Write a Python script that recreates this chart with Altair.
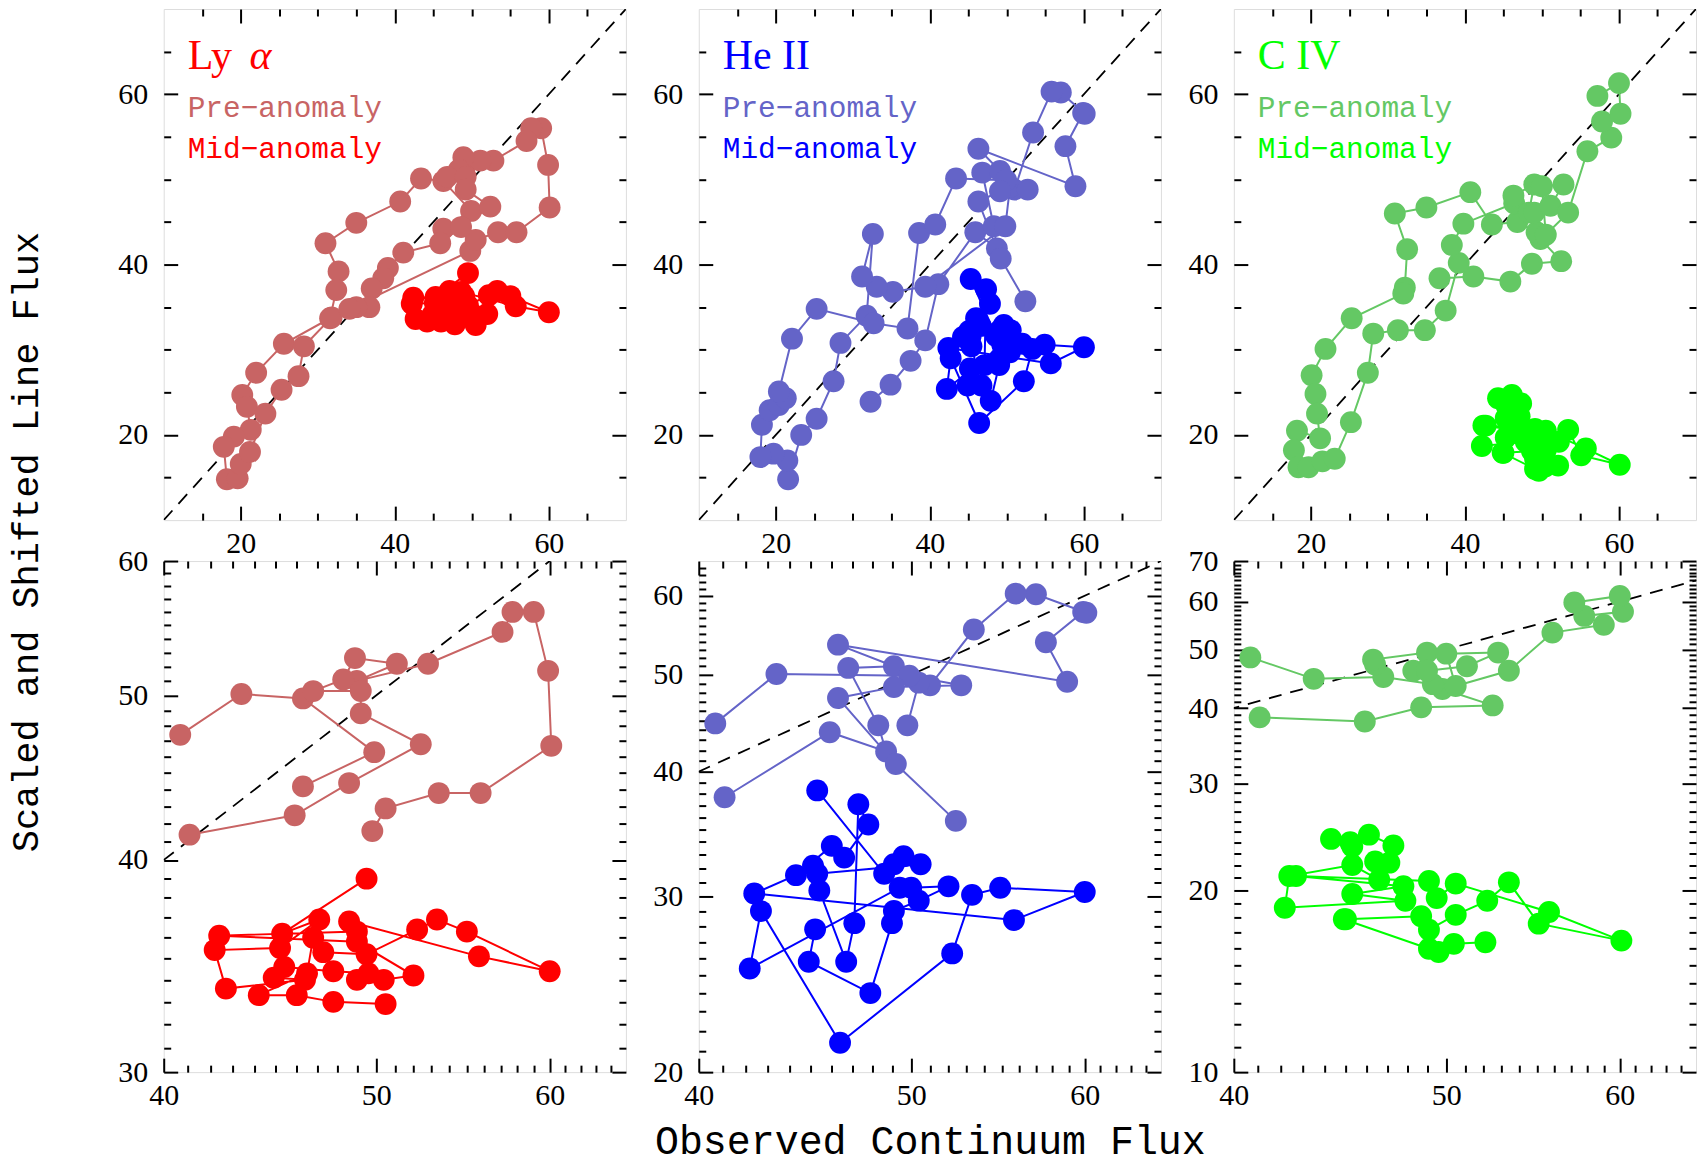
import altair as alt
import pandas as pd

# ------------------------------------------------------------------
# Data (observed continuum flux x,
# scaled & shifted line flux y), in the order the points are joined.
# ------------------------------------------------------------------
lya_pre_x = [46.3, 49.9, 46.3, 43.4, 40.7, 35.0, 31.0, 32.7, 32.4, 31.6, 25.6, 22.0, 20.2, 20.8, 21.3,
             19.1, 17.8, 18.2, 19.6, 20.0, 21.2, 23.2, 25.3, 27.5, 28.2, 31.8, 49.8, 50.5, 53.4, 55.8,
             60.1, 59.9, 59.0, 57.7, 57.1, 52.8, 49.0, 51.1, 48.9, 48.3, 46.8, 49.2, 49.2, 52.4, 48.6,
             45.9, 41.1, 39.1, 38.5, 37.0, 36.7, 35.0, 34.1]
lya_pre_y = [44.2, 46.3, 49.8, 50.1, 47.4, 44.9, 42.5, 39.2, 37.0, 33.7, 30.7, 27.3, 24.7, 23.3, 20.6,
             19.8, 18.6, 14.8, 14.9, 16.6, 18.0, 22.5, 25.3, 26.9, 30.4, 33.8, 41.6, 42.9, 43.8, 43.8,
             46.7, 51.7, 56.0, 56.0, 54.5, 52.2, 51.0, 52.2, 52.6, 51.1, 50.3, 50.3, 48.8, 46.8, 44.4,
             42.5, 41.4, 39.6, 38.4, 37.2, 35.0, 35.0, 34.8]
lya_mid_x = [49.5, 45.3, 47.1, 45.2, 42.2, 42.7, 46.4, 44.9, 45.4, 47.8, 49.6, 49.0, 50.4, 52.0, 49.0,
             42.4, 49.0, 48.6, 55.7, 60.0, 55.0, 53.3, 52.2, 49.5, 47.3, 46.8, 46.5, 44.2, 46.0, 47.8, 50.5]
lya_mid_y = [39.0, 36.2, 36.9, 35.5, 35.4, 33.6, 34.0, 34.1, 34.6, 34.4, 34.3, 34.0, 34.0, 34.2, 35.8,
             36.1, 36.3, 36.8, 35.1, 34.4, 36.3, 36.9, 36.4, 35.2, 35.3, 36.0, 34.3, 33.3, 33.3, 33.0, 32.9]

heii_pre_x = [32.3, 34.9, 37.5, 39.4, 41.1, 45.9, 48.7, 48.3, 46.8, 49.1, 46.3, 58.9, 57.6, 59.9, 60.1,
              57.0, 55.8, 53.4, 51.0, 50.4, 49.8, 39.4, 35.2, 33.1, 31.2, 32.6, 31.8, 28.4, 27.5, 25.3,
              23.3, 21.6, 21.5, 19.7, 18.0, 18.2, 19.2, 20.4, 21.3, 20.4, 22.1, 25.3, 32.7, 37.1, 38.6,
              40.7, 43.4, 49.9, 52.7, 49.1, 46.3, 49.2, 52.4]
heii_pre_y = [23.9, 25.9, 28.7, 31.1, 37.7, 43.8, 41.9, 44.5, 50.8, 51.0, 53.6, 49.2, 53.9, 57.8, 57.7,
              60.2, 60.3, 55.5, 48.8, 49.1, 44.5, 37.4, 36.8, 37.4, 38.6, 43.6, 34.0, 30.8, 26.3, 21.9,
              20.0, 14.8, 17.0, 17.8, 17.4, 21.2, 22.9, 23.5, 24.3, 25.1, 31.3, 34.8, 33.1, 32.5, 43.7,
              44.7, 50.1, 49.9, 48.8, 48.6, 47.4, 40.7, 35.7]
heii_mid_x = [45.3, 48.6, 49.1, 49.6, 50.5, 45.3, 45.1, 45.4, 46.7, 47.1, 47.3, 47.8, 46.6, 46.0, 44.3,
              42.4, 55.7, 60.0, 54.9, 53.3, 52.2, 46.4, 42.7, 42.2, 49.4, 50.0, 52.0, 50.4, 49.1, 49.0,
              47.9, 44.9, 45.2]
heii_mid_y = [38.3, 31.6, 32.3, 32.9, 32.3, 31.6, 32.2, 30.4, 25.8, 28.2, 37.1, 35.4, 32.8, 33.7, 31.5,
              30.2, 28.4, 30.3, 30.6, 30.1, 26.3, 21.4, 29.0, 25.4, 30.6, 30.6, 30.7, 29.7, 29.0, 28.2,
              24.0, 25.8, 27.8]

civ_pre_x = [36.7, 41.1, 45.9, 48.7, 52.5, 49.8, 49.3, 46.8, 43.5, 40.7, 35.0, 30.9, 32.5, 32.2, 32.0,
             25.3, 21.9, 20.1, 20.6, 20.8, 21.2, 18.2, 17.8, 18.4, 19.7, 21.5, 23.1, 25.2, 27.4, 28.1,
             31.3, 34.8, 37.5, 39.2, 38.3, 39.8, 46.4, 46.3, 49.0, 48.3, 49.0, 51.1, 52.8, 50.0, 50.5,
             53.4, 55.9, 59.0, 57.8, 60.2, 60.0, 57.2]
civ_pre_y = [38.4, 38.6, 38.0, 40.1, 40.4, 43.0, 43.8, 45.0, 44.7, 48.5, 46.7, 46.0, 41.8, 37.3, 36.6,
             33.7, 30.1, 27.0, 24.8, 22.5, 19.6, 20.5, 18.2, 16.2, 16.2, 16.9, 17.2, 21.5, 27.3, 31.9,
             32.3, 32.3, 34.6, 40.2, 42.3, 44.8, 47.2, 48.1, 49.4, 46.1, 46.1, 46.9, 49.4, 49.2, 43.5,
             46.1, 53.3, 54.9, 56.8, 57.7, 61.3, 59.8]
civ_mid_x = [44.3, 45.2, 45.3, 46.1, 47.3, 47.1, 46.4, 46.6, 45.3, 42.4, 42.2, 47.9, 45.3, 47.8, 42.7,
             49.1, 49.5, 50.5, 55.7, 60.1, 55.1, 53.4, 52.2, 50.5, 49.1, 48.7, 45.0, 44.9, 49.1, 49.6,
             50.4, 52.1]
civ_mid_y = [24.3, 24.0, 23.6, 24.7, 23.7, 22.2, 22.3, 20.8, 22.0, 21.1, 18.7, 19.2, 19.7, 20.3, 21.1,
             20.7, 19.4, 20.5, 18.4, 16.5, 17.6, 20.6, 19.2, 18.2, 17.2, 18.1, 17.9, 17.9, 16.0, 15.8,
             16.3, 16.4]

# one-to-one reference line
diag_vals = [10, 70]

# axis ticks
top_major = [20, 40, 60]
top_minor = [15, 25, 30, 35, 45, 50, 55, 65]
bx_major = [40, 50, 60]
bx_minor = [v for v in range(41, 65) if v not in (50, 60)]
ly_major = [30, 40, 50, 60]
ly_minor = [v for v in range(31, 60) if v not in (40, 50)]
he_major = [20, 30, 40, 50, 60]
he_minor = [v for v in range(21, 65) if v % 10 != 0]
cv_major = [10, 20, 30, 40, 50, 60, 70]
cv_minor = [v for v in range(11, 70) if v % 10 != 0]

# panel titles: (upright part, italic part)
titles = [("Ly", "α"), ("He II", ""), ("C IV", "")]
pre_label = "Pre\u2212anomaly"
mid_label = "Mid\u2212anomaly"
pre_colors = ["#c86464", "#6464c8", "#64c864"]
mid_colors = ["#ff0000", "#0000ff", "#00ff00"]

NUM_FONT = "Liberation Serif"
TXT_FONT = "Liberation Mono"
W, H = 463, 512
MAJ, MIN = 14, 7


def series_df(xs, ys):
    df = pd.DataFrame({"x": xs, "y": ys})
    df["i"] = range(len(df))
    df["run"] = (df["x"] < 40).cumsum()
    return df


DIAG = pd.DataFrame({"x": diag_vals, "y": diag_vals})


def make_axis(orient, values, size, labels):
    kw = dict(orient=orient, values=values, tickSize=alt.ExprRef(expr=str(-size)),
              tickWidth=2, tickColor="black", domain=False, grid=False,
              labels=labels, title=None, ticks=True)
    if labels:
        pad = size + (8 if orient in ("bottom", "top") else 16)
        kw.update(labelFont=NUM_FONT, labelFontSize=30, labelColor="black",
                  labelFlush=False, labelOverlap=False, format="d", labelPadding=pad)
    return alt.Axis(**kw)


def text_layer(txt, col, font, fs, xx, yy, style="normal"):
    return alt.Chart(pd.DataFrame({"t": [txt]})).mark_text(
        align="left", baseline="alphabetic", font=font, fontSize=fs, color=col, fontStyle=style
    ).encode(text="t:N", x=alt.value(xx), y=alt.value(yy))


def panel(pre, mid, cpre, cmid, xsc, ysc, xmaj, xmin, ymaj, ymin, bottom, title=None):
    layers = []
    for ox, oy, vx, vy, sz, lab in [("bottom", "left", xmaj, ymaj, MAJ, True),
                                    ("bottom", "left", xmin, ymin, MIN, False),
                                    ("top", "right", xmaj, ymaj, MAJ, False),
                                    ("top", "right", xmin, ymin, MIN, False)]:
        layers.append(alt.Chart(mid).mark_point(opacity=0, size=1).encode(
            x=alt.X("x:Q", scale=xsc, axis=make_axis(ox, vx, sz, lab)),
            y=alt.Y("y:Q", scale=ysc, axis=make_axis(oy, vy, sz, lab))))
    X = alt.X("x:Q", scale=xsc, axis=None)
    Y = alt.Y("y:Q", scale=ysc, axis=None)
    layers.append(alt.Chart(DIAG).mark_line(color="black", strokeWidth=1.8,
                                            strokeDash=[13, 9], clip=True).encode(x=X, y=Y))
    for df, col in [(pre, cpre), (mid, cmid)]:
        base = alt.Chart(df)
        if bottom:
            base = base.transform_filter("datum.x >= 40")
            enc_line = dict(x=X, y=Y, order=alt.Order("i:Q"), detail="run:N")
        else:
            enc_line = dict(x=X, y=Y, order=alt.Order("i:Q"))
        layers.append(base.mark_line(color=col, strokeWidth=2, clip=True).encode(**enc_line))
        layers.append(base.mark_circle(color=col, size=480, opacity=1, clip=True).encode(x=X, y=Y))
    if title is not None:
        upright, italic = title
        layers.append(text_layer(upright, cmid, NUM_FONT, 42, 24, 60))
        if italic:
            layers.append(text_layer(italic, cmid, NUM_FONT, 42, 86, 60, "italic"))
        layers.append(text_layer(pre_label, cpre, TXT_FONT, 29.5, 24, 108))
        layers.append(text_layer(mid_label, cmid, TXT_FONT, 29.5, 24, 149))
    return alt.layer(*layers).resolve_axis(x="independent", y="independent").properties(
        width=W, height=H)


lin = alt.Scale(domain=[10, 70], nice=False, zero=False)
bx = alt.Scale(type="log", domain=[40, 65], nice=False)
sets = [
    (lya_pre_x, lya_pre_y, lya_mid_x, lya_mid_y, [30, 60], ly_major, ly_minor),
    (heii_pre_x, heii_pre_y, heii_mid_x, heii_mid_y, [20, 65], he_major, he_minor),
    (civ_pre_x, civ_pre_y, civ_mid_x, civ_mid_y, [10, 70], cv_major, cv_minor),
]

top_panels, bot_panels = [], []
for k, (px, py, mx, my, ydom, ymaj, ymin) in enumerate(sets):
    pre = series_df(px, py)
    mid = series_df(mx, my)
    top_panels.append(panel(pre, mid, pre_colors[k], mid_colors[k], lin, lin,
                            top_major, top_minor, top_major, top_minor, False, titles[k]))
    by = alt.Scale(type="log", domain=ydom, nice=False)
    bot_panels.append(panel(pre, mid, pre_colors[k], mid_colors[k], bx, by,
                            bx_major, bx_minor, ymaj, ymin, True))

grid = alt.concat(*(top_panels + bot_panels), columns=3,
                  spacing={"row": 41, "column": 73}, bounds="flush",
                  title=alt.TitleParams("Observed Continuum Flux", orient="bottom", anchor="middle",
                                        font=TXT_FONT, fontSize=40, fontWeight="normal",
                                        color="black", offset=12, dx=23))
chart = alt.hconcat(grid, title=alt.TitleParams("Scaled and Shifted Line Flux", orient="left",
                                                anchor="middle", font=TXT_FONT, fontSize=37,
                                                fontWeight="normal", color="black", offset=71,
                                                dx=43),
                    padding={"left": 8, "right": 1, "top": 6, "bottom": 4})
chart = chart.configure_view(stroke="black", strokeWidth=2).configure(background="white")

chart.save("out.html", embed_options={"renderer": "svg", "actions": False})
